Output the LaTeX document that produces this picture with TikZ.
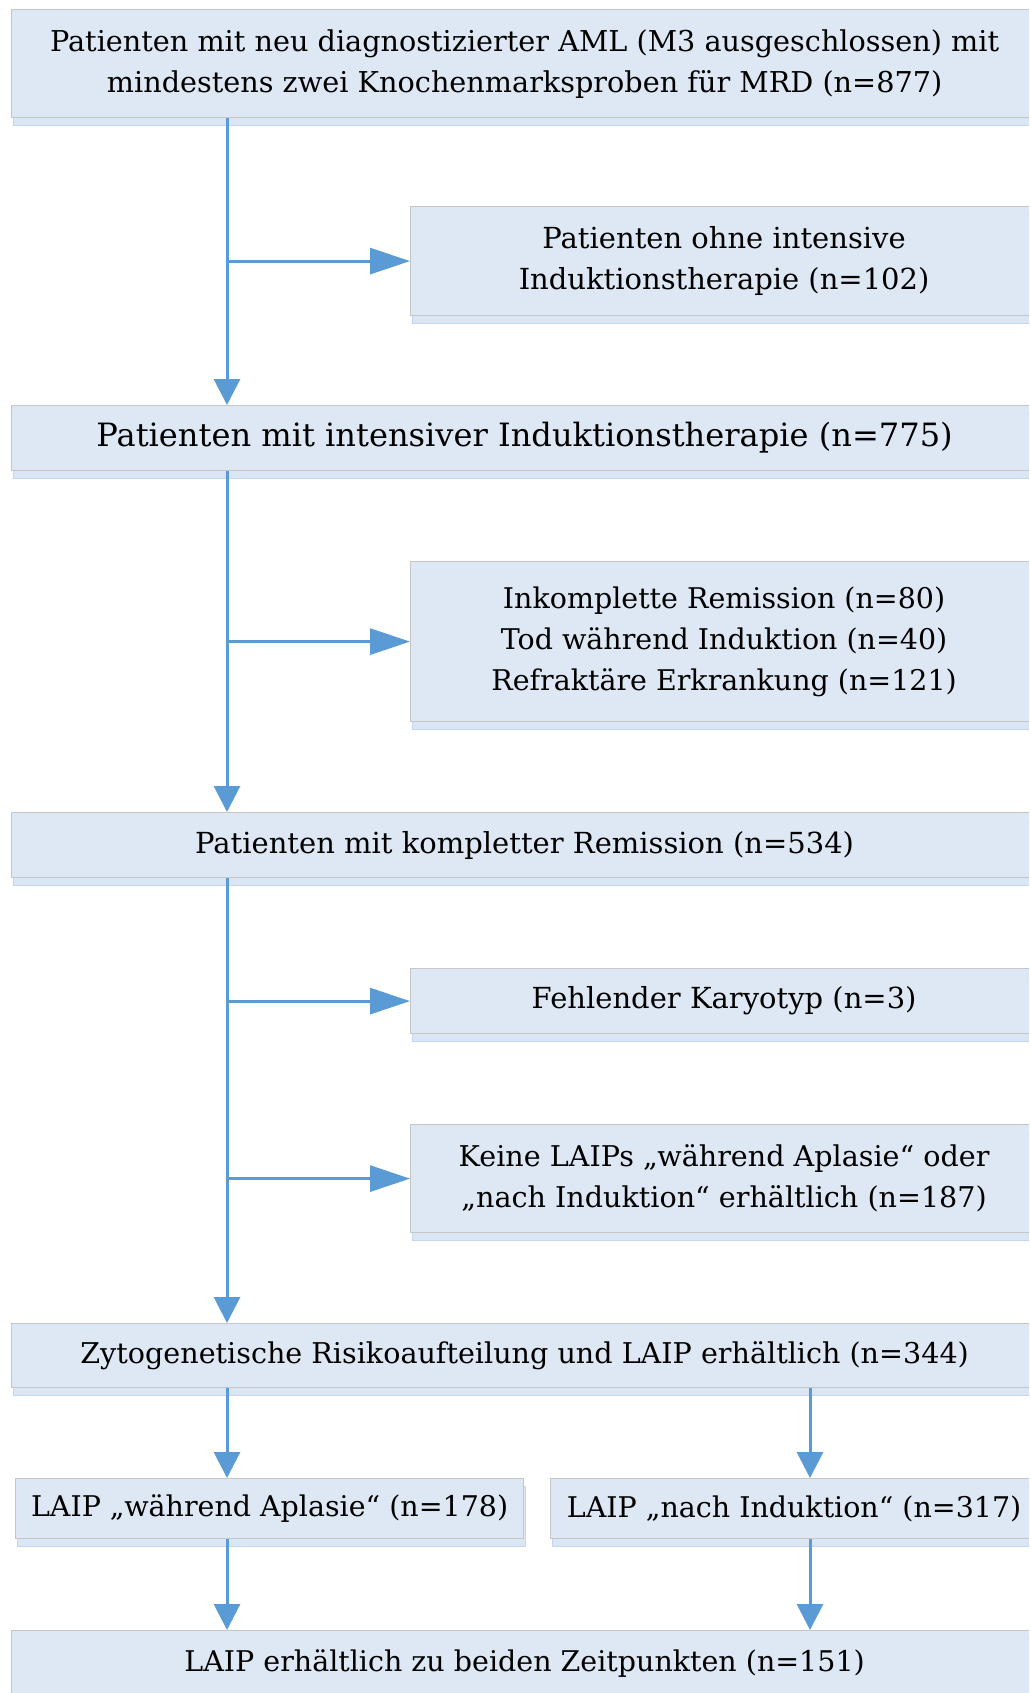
\documentclass[tikz,border=0pt]{standalone}
\usepackage{fontspec}
\setmainfont{DejaVu Serif}
\usetikzlibrary{arrows.meta,shadows}
\definecolor{boxfill}{HTML}{DEE8F4}
\definecolor{boxborder}{HTML}{C6C6C6}
\definecolor{shadowfill}{HTML}{DAE6F4}
\definecolor{shadowdraw}{HTML}{C3D8EF}
\definecolor{linecol}{HTML}{5B9BD5}
\newcommand\fsz[1]{\fontsize{#1}{41}\selectfont}
\tikzset{
  flowbox/.style={draw=boxborder, line width=1.2pt, fill=boxfill, inner sep=0pt,
    anchor=north west, align=center, text=black,
    drop shadow={shadow xshift=1.5pt, shadow yshift=-7.5pt, fill=shadowfill,
      draw=shadowdraw, line width=1pt, opacity=1}},
  conn/.style={draw=linecol, line width=3pt},
  harrow/.style={conn, -{Triangle[length=40pt,width=26pt]}},
  varrow/.style={conn, -{Triangle[length=26pt,width=26pt]}},
}
\begin{document}
\begin{tikzpicture}[x=1pt,y=-1pt]
\useasboundingbox (0,0) rectangle (1029,1693);
\clip (0,0) rectangle (1029,1693);
\fill[white] (0,0) rectangle (1029,1693);

\node[flowbox, minimum width=1026pt, minimum height=108pt, font=\fsz{28.7}] (b1) at (11,9)
  {Patienten mit neu diagnostizierter AML (M3 ausgeschlossen) mit\\mindestens zwei Knochenmarksproben für MRD (n=877)};
\node[flowbox, minimum width=627pt, minimum height=109pt, font=\fsz{29}] (b2) at (410,206)
  {Patienten ohne intensive\\Induktionstherapie (n=102)};
\node[flowbox, minimum width=1026pt, minimum height=65pt, font=\fsz{32.1}] (b3) at (11,405)
  {Patienten mit intensiver Induktionstherapie (n=775)};
\node[flowbox, minimum width=627pt, minimum height=160pt, font=\fsz{28.5}] (b4) at (410,561)
  {Inkomplette Remission (n=80)\\Tod während Induktion (n=40)\\Refraktäre Erkrankung (n=121)};
\node[flowbox, minimum width=1026pt, minimum height=65pt, font=\fsz{29}] (b5) at (11,812)
  {Patienten mit kompletter Remission (n=534)};
\node[flowbox, minimum width=627pt, minimum height=65pt, font=\fsz{29}] (b6) at (410,968)
  {Fehlender Karyotyp (n=3)};
\node[flowbox, minimum width=627pt, minimum height=108pt, font=\fsz{28.6}] (b7) at (410,1124)
  {Keine LAIPs „während Aplasie“ oder\\„nach Induktion“ erhältlich (n=187)};
\node[flowbox, minimum width=1026pt, minimum height=64pt, font=\fsz{28.6}] (b8) at (11,1323)
  {Zytogenetische Risikoaufteilung und LAIP erhältlich (n=344)};
\node[flowbox, minimum width=508pt, minimum height=60pt, font=\fsz{28.5}] (b9) at (15,1478)
  {LAIP „während Aplasie“ (n=178)};
\node[flowbox, minimum width=487pt, minimum height=60pt, font=\fsz{28.5}] (b10) at (550,1478)
  {LAIP „nach Induktion“ (n=317)};
\node[flowbox, minimum width=1026pt, minimum height=65pt, font=\fsz{28.5}] (b11) at (11,1630)
  {LAIP erhältlich zu beiden Zeitpunkten (n=151)};

\coordinate (tl) at (227,0);
\coordinate (tr) at (810,0);

\draw[varrow] (b1.south -| tl) -- (b3.north -| tl);
\draw[harrow] (b2.west -| tl) -- (b2.west);
\draw[varrow] (b3.south -| tl) -- (b5.north -| tl);
\draw[harrow] (b4.west -| tl) -- (b4.west);
\draw[varrow] (b5.south -| tl) -- (b8.north -| tl);
\draw[harrow] (b6.west -| tl) -- (b6.west);
\draw[harrow] (b7.west -| tl) -- (b7.west);
\draw[varrow] (b8.south -| tl) -- (b9.north -| tl);
\draw[varrow] (b8.south -| tr) -- (b10.north -| tr);
\draw[varrow] (b9.south -| tl) -- (b11.north -| tl);
\draw[varrow] (b10.south -| tr) -- (b11.north -| tr);
\end{tikzpicture}
\end{document}
